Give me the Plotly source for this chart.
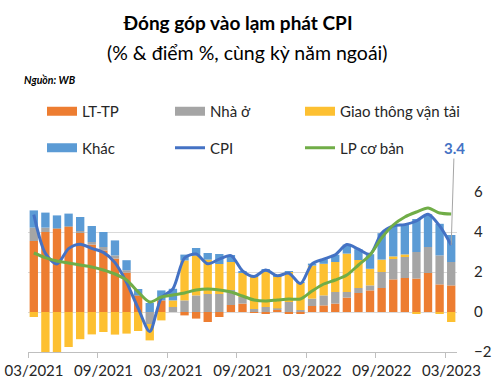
import plotly.graph_objects as go

# ---------------- data ----------------
months = ["03/2020", "04/2020", "05/2020", "06/2020", "07/2020", "08/2020", "09/2020",
          "10/2020", "11/2020", "12/2020", "01/2021", "02/2021", "03/2021", "04/2021",
          "05/2021", "06/2021", "07/2021", "08/2021", "09/2021", "10/2021", "11/2021",
          "12/2021", "01/2022", "02/2022", "03/2022", "04/2022", "05/2022", "06/2022",
          "07/2022", "08/2022", "09/2022", "10/2022", "11/2022", "12/2022", "01/2023",
          "02/2023", "03/2023"]
tick_labels = ["03/2021", "09/2021", "03/2021", "09/2021", "03/2022", "09/2022", "03/2023"]
tick_every = 6

lt_tp = [3.55, 4.00, 4.15, 4.25, 3.95, 3.37, 3.08, 2.67, 1.97, 0.80, 0.00, 0.58, 0.00,
         -0.17, -0.33, -0.50, -0.25, 0.35, 0.42, -0.05, -0.10, 0.10, -0.10, -0.10, 0.30,
         0.33, 0.42, 0.72, 0.95, 1.08, 1.20, 1.63, 1.70, 1.67, 1.95, 1.38, 1.33]
nha_o = [0.67, 0.22, 0.05, 0.05, 0.10, 0.13, 0.17, 0.16, 0.12, 0.05, -0.60, 0.00, 0.25,
         0.58, 0.83, 0.90, 0.90, 0.75, 0.33, 0.15, 0.25, 0.08, 0.50, 0.10, 0.37,
         0.50, 0.58, 0.28, 0.25, 0.25, 0.80, 1.02, 1.05, 1.33, 1.30, 1.45, 1.17]
gtvt = [-0.25, -2.04, -2.43, -1.75, -1.36, -1.12, -1.00, -1.13, -1.08, -0.95, -0.82, -0.42,
        0.33, 2.00, 2.00, 1.72, 1.50, 1.40, 1.20, 1.60, 1.75, 1.60, 1.50, 1.35, 1.65,
        1.58, 1.50, 1.92, 1.40, 0.83, 0.62, 0.13, 0.13, -0.10, 0.00, -0.10, -0.50]
khac = [0.86, 0.75, 0.63, 0.62, 0.70, 0.80, 0.75, 0.75, 0.50, 0.30, 0.45, 0.50, 0.58,
        0.29, 0.37, 0.33, 0.50, 0.35, 0.10, 0.05, 0.15, 0.03, 0.05, 0.05, 0.10,
        0.23, 0.36, 0.45, 0.54, 0.73, 1.32, 1.52, 1.49, 1.65, 1.64, 1.58, 1.35]
cpi = [4.87, 2.93, 2.40, 3.17, 3.39, 3.18, 2.98, 2.47, 1.48, 0.19, -0.97, 0.70, 1.16,
       2.70, 2.90, 2.41, 2.64, 2.82, 2.06, 1.77, 2.10, 1.81, 1.94, 1.42, 2.41,
       2.64, 2.86, 3.37, 3.14, 2.89, 3.94, 4.30, 4.37, 4.55, 4.89, 4.31, 3.35]
lp_co_ban = [2.95, 2.72, 2.55, 2.45, 2.35, 2.25, 2.10, 1.90, 1.60, 1.00, 0.50, 0.75, 0.85,
             0.95, 1.10, 1.15, 1.10, 1.00, 0.80, 0.60, 0.55, 0.60, 0.65, 0.65, 1.05,
             1.40, 1.60, 1.85, 2.35, 2.85, 3.70, 4.35, 4.75, 5.00, 5.20, 4.95, 4.90]

y_ticks = [-2, 0, 2, 4, 6]

# ---------------- styling ----------------
FONT = "Lato, Carlito, 'Open Sans', sans-serif"
C_LT = "#ED7D31"
C_NHA = "#A5A5A5"
C_GT = "#FDC031"
C_KHAC = "#5B9BD5"
C_CPI = "#4472C4"
C_LP = "#70AD47"
TXT = "#262626"

x = list(range(len(months)))

fig = go.Figure()

# legend columns: (LT-TP, Khác) | (Nhà ở, CPI) | (Giao thông vận tải, LP cơ bản)
bar_series = [("LT-TP", lt_tp, C_LT, "legend"),
              ("Nhà ở", nha_o, C_NHA, "legend2"),
              ("Giao thông vận tải", gtvt, C_GT, "legend3"),
              ("Khác", khac, C_KHAC, "legend")]

for name, vals, col, lg in bar_series:
    fig.add_trace(go.Bar(x=x, y=vals, name=name, marker=dict(color=col, line=dict(width=0)),
                         legendgroup=name, showlegend=False, customdata=months,
                         hovertemplate="%{customdata}: %{y}<extra>" + name + "</extra>"))

# wide legend swatches for the bar series (linked to the bars via legendgroup)
for name, vals, col, lg in bar_series:
    fig.add_trace(go.Scatter(x=[None], y=[None], mode="lines", name=name,
                             line=dict(color=col, width=9), legendgroup=name,
                             legend=lg, hoverinfo="skip"))

fig.add_trace(go.Scatter(x=x, y=cpi, name="CPI", mode="lines", legendgroup="CPI",
                         line=dict(color=C_CPI, width=3, shape="spline", smoothing=0.8),
                         legend="legend2", customdata=months,
                         hovertemplate="%{customdata}: %{y}<extra>CPI</extra>"))
fig.add_trace(go.Scatter(x=x, y=lp_co_ban, name="LP cơ bản", mode="lines",
                         legendgroup="LP cơ bản",
                         line=dict(color=C_LP, width=3, shape="spline", smoothing=0.8),
                         legend="legend3", customdata=months,
                         hovertemplate="%{customdata}: %{y}<extra>LP cơ bản</extra>"))

# label on the last CPI point
fig.add_annotation(x=x[-1], y=cpi[-1], text="<b>%.1f</b>" % cpi[-1], showarrow=True,
                   arrowhead=0, arrowwidth=1, arrowcolor="#A6A6A6", ax=3, ay=-97,
                   font=dict(family=FONT, size=15, color=C_CPI))

# tick boundaries between categories, labels shifted to category centres
tick_pos = [i - 0.5 for i in x[::tick_every]]

legend_common = dict(orientation="v", xref="container", yref="paper", xanchor="left",
                     yanchor="middle", y=(352 - 129.5) / 160, tracegroupgap=14,
                     font=dict(family=FONT, size=15, color=TXT), bgcolor="rgba(0,0,0,0)",
                     traceorder="grouped", itemclick="toggle")

fig.update_layout(
    width=500, height=391,
    margin=dict(l=28, r=43, t=192, b=39, autoexpand=False),
    paper_bgcolor="white", plot_bgcolor="white",
    barmode="relative", bargap=0.28,
    font=dict(family=FONT, size=15, color=TXT),
    title=dict(text="<b>Đóng góp vào lạm phát CPI</b>", xref="container", yref="container",
               x=0.476, y=1 - 23 / 391, xanchor="center", yanchor="middle",
               font=dict(family=FONT, size=19, color="#000000")),
    legend=dict(x=42 / 500, **legend_common),
    legend2=dict(x=170 / 500, **legend_common),
    legend3=dict(x=300 / 500, **legend_common),
    xaxis=dict(range=[-0.5, len(months) - 0.5], tickmode="array", tickvals=tick_pos,
               ticktext=tick_labels, ticks="outside", ticklen=5, tickcolor="#BFBFBF",
               ticklabelshift=6, showline=True, linecolor="#BFBFBF", linewidth=1,
               showgrid=False, zeroline=False, automargin=False,
               tickfont=dict(family=FONT, size=15, color=TXT)),
    yaxis=dict(range=[-2, 6], side="right", tickvals=y_ticks, showgrid=True,
               gridcolor="#D9D9D9", gridwidth=1, zeroline=False, showline=False,
               ticks="", ticklabelstandoff=16, automargin=False,
               tickfont=dict(family=FONT, size=15, color=TXT)),
    showlegend=True,
)

fig.add_annotation(xref="paper", yref="paper", x=(247 - 28) / 429, y=(352 - 52) / 160,
                   text="(% & điểm %, cùng kỳ năm ngoái)", showarrow=False,
                   xanchor="center", yanchor="middle",
                   font=dict(family=FONT, size=19.5, color="#000000"))
fig.add_annotation(xref="paper", yref="paper", x=(22 - 28) / 429, y=(352 - 80) / 160,
                   text="<b><i>Nguồn: WB</i></b>", showarrow=False,
                   xanchor="left", yanchor="middle",
                   font=dict(family=FONT, size=10.5, color="#000000"))

fig.write_html("out.html", config={"displayModeBar": False},
               post_script="document.body.style.margin='0';")
